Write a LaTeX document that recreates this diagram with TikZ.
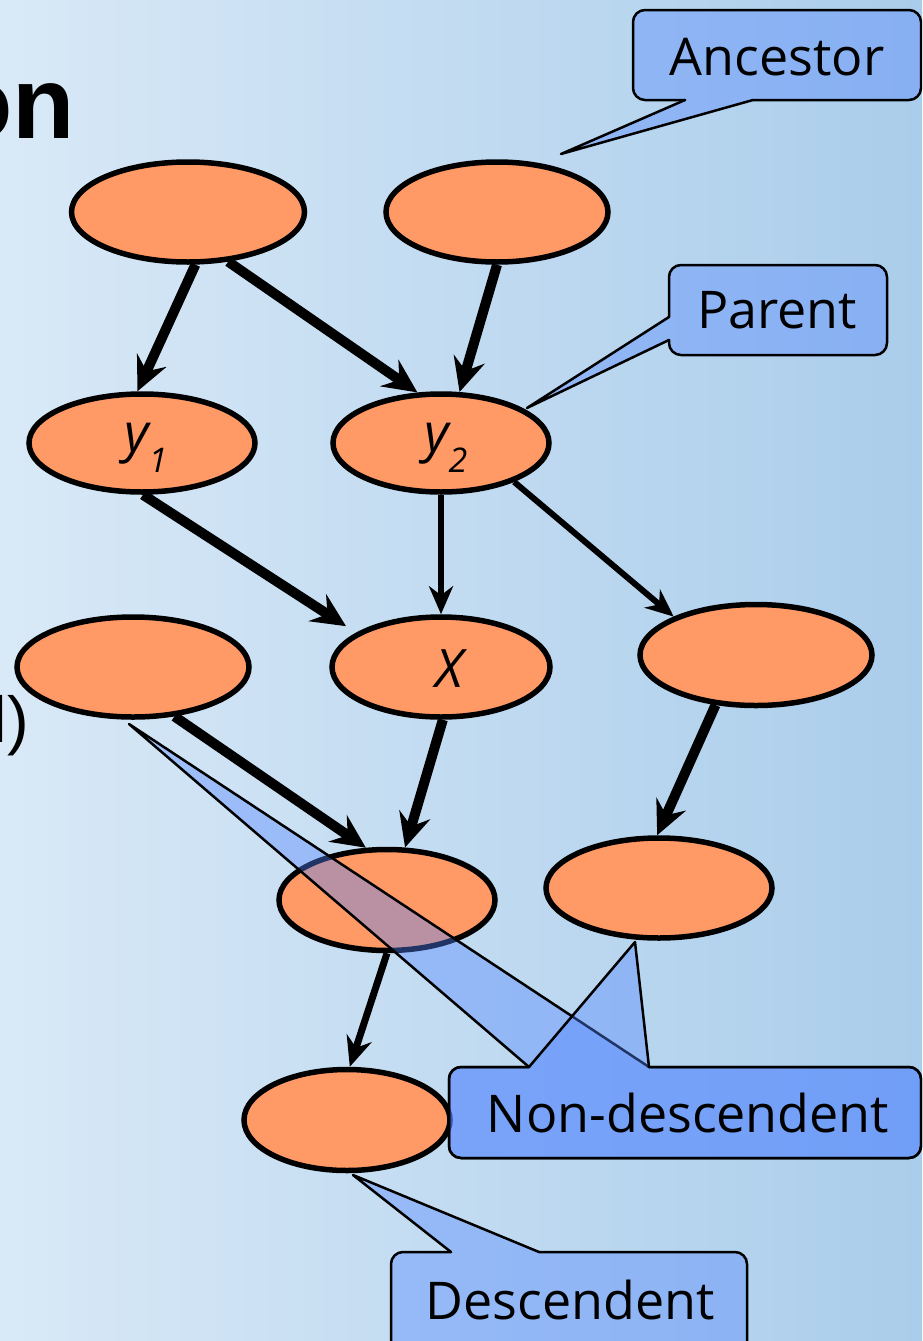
\documentclass[tikz,border=0pt]{standalone}
\usepackage{fontspec}
\setmainfont{Liberation Sans}
\newfontfamily\callfont{Open Sans}
\usetikzlibrary{shapes.geometric,arrows.meta}
\definecolor{bgleft}{RGB}{217,233,247}
\definecolor{bgright}{RGB}{170,205,235}
\definecolor{nodeorange}{RGB}{255,153,102}
\definecolor{calloutblue}{RGB}{82,133,255}

\begin{document}
\begin{tikzpicture}[x=1pt,y=-1pt,
  var/.style={ellipse, draw=black, line width=5.5pt, fill=nodeorange, inner sep=0pt},
  bigarrow/.style={line width=10pt, -{Stealth[length=34pt,width=32pt,inset=12pt]}},
  smallarrow/.style={line width=6pt, -{Stealth[length=28pt,width=24pt,inset=9pt]}},
  bubblefill/.style={fill=calloutblue, fill opacity=0.4},
  bubbleline/.style={draw=black, line width=2.5pt, line cap=round, line join=round},
  bubbletext/.style={font=\callfont\fontsize{52}{60}\selectfont, inner sep=0pt},
  varlabel/.style={font=\callfont\itshape\fontsize{53}{60}\selectfont, inner sep=0pt, anchor=base west},
]
\useasboundingbox (0,0) rectangle (922,1341);
\clip (0,0) rectangle (922,1341);

% slide background
\shade[left color=bgleft, right color=bgright] (0,0) rectangle (922,1341);

% slide text running off the left edge
\node[font=\bfseries\fontsize{102}{110}\selectfont, inner sep=0pt, anchor=base east] (title) at (75,138) {on};
\node[font=\fontsize{65}{70}\selectfont, inner sep=0pt, anchor=base east] (bodytext) at (29,742) {l)};

% variables
\node[var, minimum width=233pt, minimum height=100pt] (A1) at (188,212) {};
\node[var, minimum width=222pt, minimum height=100pt] (A2) at (497,212) {};
\node[var, minimum width=226pt, minimum height=98pt]  (Y1) at (142,443) {};
\node[var, minimum width=216pt, minimum height=98pt]  (Y2) at (441,443) {};
\node[var, minimum width=232pt, minimum height=100pt] (L)  at (133,667) {};
\node[var, minimum width=218pt, minimum height=100pt] (X)  at (441,667) {};
\node[var, minimum width=232pt, minimum height=101pt] (R)  at (756,655) {};
\node[var, minimum width=216pt, minimum height=101pt] (C)  at (387,900) {};
\node[var, minimum width=226pt, minimum height=100pt] (D)  at (659,888) {};
\node[var, minimum width=206pt, minimum height=101pt] (E)  at (347,1120) {};

% variable names
\node[varlabel] (y1text) at (124,451) {y\raisebox{-21pt}{\fontsize{34}{36}\selectfont 1}};
\node[varlabel] (y2text) at (424,451) {y\raisebox{-21pt}{\fontsize{34}{36}\selectfont 2}};
\node[varlabel, anchor=base] (xtext) at (449,687) {X};

% edges
\draw[bigarrow] (A1.-82) -- (Y1.95);
\draw[bigarrow] (A1.-51) -- (Y2.115);
\draw[bigarrow] (A2.-90) -- (Y2.70);
\draw[bigarrow, shorten >=12pt] (Y1.-89) -- (X.158);
\draw[smallarrow] (Y2.-90) -- (X.90);
\draw[smallarrow] (Y2.-28) -- (R.155);
\draw[bigarrow] (L.-50) -- (C.112);
\draw[bigarrow] (X.-88) -- (C.71);
\draw[bigarrow] (R.-129) -- (D.92);
\draw[line width=7pt, -{Stealth[length=30pt,width=26pt,inset=10pt]}] (C.-90) -- (E.87);

% callout: Ancestor
\fill[bubblefill] [rounded corners=12pt] (633,10) rectangle (921,100)
  [sharp corners] (685,100) -- (561,154) -- (753,100) -- cycle;
\draw[bubbleline, rounded corners=12pt] (753,100) -- (921,100) -- (921,10) -- (633,10) -- (633,100) -- (685,100);
\draw[bubbleline] (685,100) -- (561,154) -- (753,100);
\node[bubbletext] (ancestor) at (777,57) {Ancestor};

% callout: Parent
\fill[bubblefill] [rounded corners=12pt] (669,265) rectangle (887,355)
  [sharp corners] (669,317) -- (527,408) -- (669,340) -- cycle;
\draw[bubbleline, rounded corners=12pt] (669,340) -- (669,355) -- (887,355) -- (887,265) -- (669,265) -- (669,317);
\draw[bubbleline] (669,317) -- (527,408) -- (669,340);
\node[bubbletext] (parent) at (777,310) {Parent};

% callout: Non-descendent (two pointers sharing one box)
\fill[bubblefill] [rounded corners=12pt] (449,1067) rectangle (921,1158)
  [sharp corners] (529,1067) -- (129,724) -- (649,1067) -- cycle;
\draw[bubbleline, rounded corners=12pt] (649,1067) -- (921,1067) -- (921,1158) -- (449,1158) -- (449,1067) -- (529,1067);
\draw[bubbleline] (529,1067) -- (129,724) -- (649,1067);
\fill[bubblefill] [rounded corners=12pt] (449,1067) rectangle (921,1158)
  [sharp corners] (529,1067) -- (635,942) -- (649,1067) -- cycle;
\draw[bubbleline, rounded corners=12pt] (649,1067) -- (921,1067) -- (921,1158) -- (449,1158) -- (449,1067) -- (529,1067);
\draw[bubbleline] (529,1067) -- (635,942) -- (649,1067);
\node[bubbletext] (nondesc) at (688,1113) {Non-descendent};

% callout: Descendent
\fill[bubblefill] [rounded corners=12pt] (391,1252) rectangle (747,1362)
  [sharp corners] (451,1252) -- (353,1175) -- (539,1252) -- cycle;
\draw[bubbleline, rounded corners=12pt] (539,1252) -- (747,1252) -- (747,1362) -- (391,1362) -- (391,1252) -- (451,1252);
\draw[bubbleline] (451,1252) -- (353,1175) -- (539,1252);
\node[bubbletext] (desc) at (570,1300) {Descendent};
\end{tikzpicture}
\end{document}
